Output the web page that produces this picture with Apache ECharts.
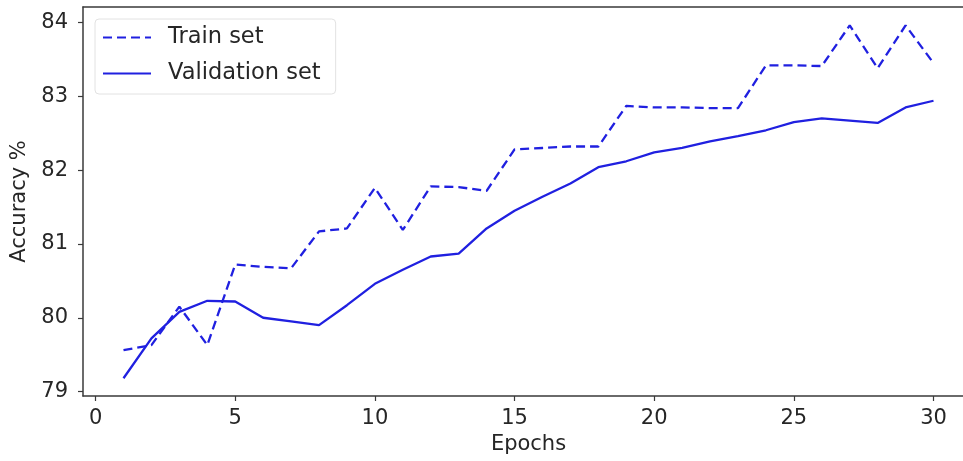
<!DOCTYPE html>
<html>
<head>
<meta charset="utf-8">
<script src="https://cdn.jsdelivr.net/npm/echarts@6/dist/echarts.min.js"></script>
<style>
  html, body { margin: 0; padding: 0; background: #fff; }
  #chart { width: 963px; height: 461px; }
</style>
</head>
<body>
<div id="chart"></div>
<script>
// Accuracy per epoch for training and validation
const epochs = [1,2,3,4,5,6,7,8,9,10,11,12,13,14,15,16,17,18,19,20,21,22,23,24,25,26,27,28,29,30];
const trainAcc = [79.56,79.63,80.15,79.63,80.72,80.69,80.67,81.17,81.21,81.76,81.19,81.78,81.77,81.72,82.28,82.30,82.32,82.32,82.87,82.85,82.85,82.84,82.84,83.42,83.42,83.41,83.96,83.38,83.96,83.45];
const valAcc = [79.18,79.72,80.08,80.23,80.22,80.00,79.95,79.90,80.17,80.46,80.65,80.83,80.87,81.21,81.45,81.64,81.82,82.04,82.12,82.24,82.30,82.39,82.46,82.54,82.65,82.70,82.67,82.64,82.85,82.94];
const xTicks = [0,5,10,15,20,25,30];
const yTicks = [79,80,81,82,83,84];

const lineColor = '#2020e0';
const textColor = '#262626';
const spineColor = '#3a3a3a';
const font = 'DejaVu Sans';
const fontSize = 21;

const xRange = { min: -0.45, max: 31.45 };
const spine = { show: true, onZero: false, lineStyle: { color: spineColor, width: 1.5 } };

const chart = echarts.init(document.getElementById('chart'), null, { renderer: 'canvas' });
chart.setOption({
  animation: false,
  backgroundColor: '#ffffff',
  textStyle: { fontFamily: font },
  grid: {
    left: 83, top: 7, bottom: 65, right: -11,
    containLabel: false,
    outerBoundsMode: 'none',
    show: false
  },
  legend: {
    left: 95, top: 19,
    orient: 'vertical',
    padding: [7, 15, 9, 7],
    itemGap: 13,
    itemWidth: 48,
    itemHeight: 18,
    backgroundColor: 'rgba(255,255,255,0.85)',
    borderColor: '#e2e2e2',
    borderWidth: 1,
    borderRadius: 4,
    itemStyle: { opacity: 0 },
    textStyle: { fontFamily: font, fontSize: 22.5, color: textColor, padding: [0, 0, 0, 12] },
    data: ['Train set', 'Validation set']
  },
  xAxis: [
    {
      type: 'value',
      position: 'bottom',
      min: xRange.min, max: xRange.max,
      name: 'Epochs',
      nameLocation: 'middle',
      nameGap: 38,
      nameTextStyle: { fontFamily: font, fontSize: fontSize, color: textColor },
      axisLine: spine,
      splitLine: { show: false },
      axisTick: { show: true, inside: false, length: 5, lineStyle: { color: spineColor, width: 1.2 }, customValues: xTicks },
      axisLabel: { margin: 12, fontFamily: font, fontSize: fontSize, color: textColor, customValues: xTicks }
    },
    {
      // top spine of the frame
      type: 'value',
      position: 'top',
      min: xRange.min, max: xRange.max,
      axisLine: spine,
      axisTick: { show: false },
      axisLabel: { show: false },
      splitLine: { show: false }
    }
  ],
  yAxis: {
    type: 'value',
    position: 'left',
    min: 78.94, max: 84.21,
    name: 'Accuracy %',
    nameLocation: 'middle',
    nameGap: 51,
    nameTextStyle: { fontFamily: font, fontSize: fontSize, color: textColor },
    axisLine: spine,
    splitLine: { show: false },
    axisTick: { show: true, inside: false, length: 5, lineStyle: { color: spineColor, width: 1.2 }, customValues: yTicks },
    axisLabel: { margin: 15, fontFamily: font, fontSize: fontSize, color: textColor, customValues: yTicks }
  },
  series: [
    {
      name: 'Train set',
      type: 'line',
      data: epochs.map((e, i) => [e, trainAcc[i]]),
      symbol: 'none',
      color: lineColor,
      lineStyle: { color: lineColor, width: 2.3, type: [9, 5] }
    },
    {
      name: 'Validation set',
      type: 'line',
      data: epochs.map((e, i) => [e, valAcc[i]]),
      symbol: 'none',
      color: lineColor,
      lineStyle: { color: lineColor, width: 2.3 }
    }
  ]
});
</script>
</body>
</html>
